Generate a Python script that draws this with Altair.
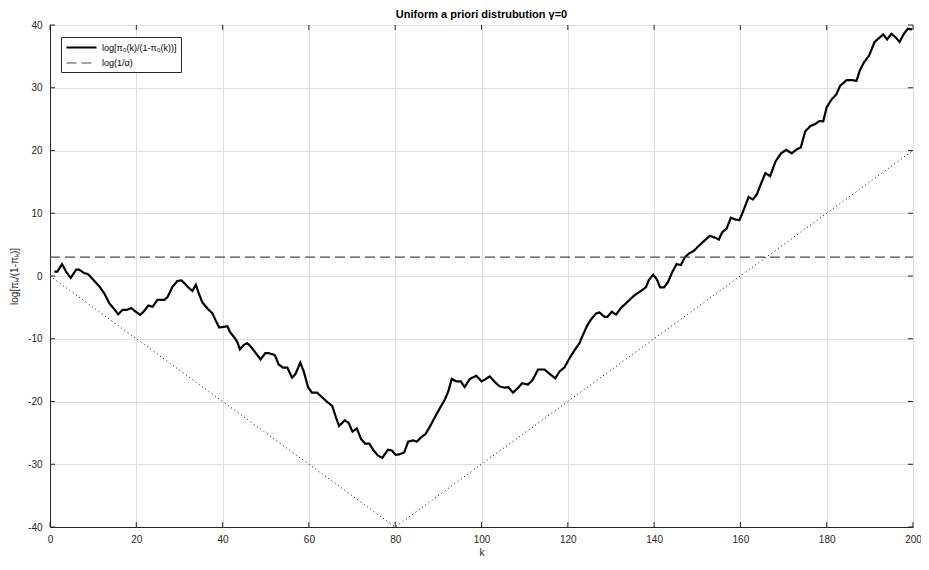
import altair as alt
import pandas as pd

# ---- data ----
k_main = [1, 1.7, 2.8, 3.8, 4.8, 6.1, 6.8, 7.8, 8.8, 9.9, 11.5, 12.6, 13.8, 14.8, 15.8,
          16.8, 17.8, 18.8, 19.7, 20.9, 21.8, 22.8, 23.8, 24.9, 26.5, 27.2, 28.4, 29.5, 30.5,
          31.2, 32.2, 33, 33.8, 34.5, 35.3, 36.5, 37.6, 38.4, 39.2, 40.3, 41.1, 41.7, 42.6,
          43.4, 44, 44.9, 45.7, 46.6, 47.6, 48.8, 49.9,
          50.7, 52.1, 53, 54, 55, 56.1, 56.9, 58, 58.8, 59.8, 60.7, 61.9, 63, 64.2, 65.4,
          66.3, 67, 68.3, 69.2, 70.1, 71.1, 72.1, 73, 74, 75, 76, 77, 78.3, 79.2, 80.1,
          81.1, 82.1, 83, 84.2, 85, 86, 87, 88, 89.2, 90.4, 91.5, 92.3, 93.1, 94.2, 95.2,
          96.1, 97.3, 98.8,
          100, 100.8, 101.9, 103.1, 104.2, 105.4, 106.2, 107.3, 108.5, 109.4, 110.8, 111.9,
          113.1, 114.6, 115.8, 117.1, 118.1, 119.2, 120.4, 121.5, 122.7, 123.5, 124.5, 125.4,
          126.5, 127.3, 128.5, 129.2, 130.2, 131.2, 132.3, 133.8, 135.4, 136.5, 138.1, 138.8,
          139.8, 140.6, 141.4, 142.3, 143.2, 144.2, 145.2, 146.2, 147.1, 148.1, 149.2,
          150.8, 152.9, 154.2, 155, 155.8, 156.8, 157.8, 158.8, 159.8, 160.8, 161.9, 162.9,
          163.8, 165, 165.8, 166.9, 168.1, 169.4, 170.6, 171.9, 173.1, 174, 175, 176.2,
          177.3, 178.3, 179.2, 180, 181.2, 182.2, 183.1, 184.6, 186, 186.9, 187.7, 188.6,
          189.8, 191.1, 192.1, 193.1, 194, 195, 196, 196.9, 197.8, 198.8, 199.8]
v_main = [0.7, 0.7, 1.9, 0.6, -0.3, 1.05, 1.0, 0.5, 0.3, -0.5, -1.7, -2.8, -4.4, -5.2, -6.1,
          -5.4, -5.4, -5.1, -5.6, -6.2, -5.6, -4.7, -4.9, -3.8, -3.8, -3.4, -1.7, -0.8, -0.7,
          -1.2, -1.9, -2.4, -1.4, -2.8, -4.2, -5.2, -5.9, -7.1, -8.2, -8.1, -8.0, -8.9, -9.7,
          -10.5, -11.7, -11.0, -10.7, -11.3, -12.2, -13.3, -12.3,
          -12.3, -12.6, -14.1, -14.6, -14.6, -16.2, -15.6, -13.8, -15.2, -17.7, -18.6, -18.6,
          -19.3, -20.05, -20.7, -22.6, -23.9, -23.0, -23.4, -24.8, -24.3, -26.0, -26.7, -26.7,
          -27.8, -28.6, -29.0, -27.7, -27.8, -28.5, -28.4, -28.1, -26.4, -26.2, -26.4, -25.7,
          -25.2, -24.05, -22.5, -21.0, -19.7, -18.4, -16.4, -16.8, -16.8, -17.7, -16.4, -15.9,
          -16.8, -16.5, -16.0, -16.9, -17.6, -17.8, -17.7, -18.6, -17.8, -17.1, -17.3, -16.5,
          -14.9, -14.9, -15.6, -16.3, -15.2, -14.6, -13.1, -11.9, -10.7, -9.4, -7.9, -6.9,
          -6.0, -5.8, -6.5, -6.5, -5.7, -6.15, -5.1, -4.15, -3.1, -2.6, -1.8, -0.6,
          0.2, -0.5, -1.8, -1.8, -1.0, 0.6, 1.9, 1.75, 2.95, 3.6, 4.0,
          5.1, 6.4, 6.1, 5.8, 7.0, 7.55, 9.3, 9.0, 8.9, 10.6, 12.6, 12.2,
          13.0, 15.1, 16.4, 15.9, 18.2, 19.55, 20.1, 19.55, 20.2, 20.5, 23.0, 23.9,
          24.2, 24.7, 24.65, 26.9, 28.2, 28.9, 30.3, 31.2, 31.2, 31.1, 32.8, 34.0,
          35.1, 37.3, 37.9, 38.5, 37.7, 38.6, 38.0, 37.3, 38.5, 39.4, 39.3]

thr_k = [0, 200]
thr_v = [3.0, 3.0]
bound_k = [0, 80, 200]
bound_v = [0, -40, 20]
x_ticks = list(range(0, 201, 20))
y_ticks = list(range(-40, 41, 10))

series_main = "log[π₀(k)/(1-π₀(k))]"
series_thr = "log(1/α)"
title_text = "Uniform a priori distrubution γ=0"
x_title = "k"
y_title = "log[πₖ/(1-πₖ)]"

# ---- tables ----
lines_df = pd.concat([
    pd.DataFrame({"k": k_main, "v": v_main, "series": series_main}),
    pd.DataFrame({"k": thr_k, "v": thr_v, "series": series_thr}),
])
bound_df = pd.DataFrame({"k": bound_k, "v": bound_v})
xt_df = pd.DataFrame({"k": x_ticks})
yt_df = pd.DataFrame({"v": y_ticks})

W, H = 863, 502
FONT = "Liberation Sans"
AX = "#262626"

xs = alt.Scale(domain=[0, 200], nice=False, zero=False)
ys = alt.Scale(domain=[-40, 40], nice=False, zero=False)

x_axis = alt.Axis(values=x_ticks, title=x_title, grid=True, ticks=False, labelFlush=False,
                  labelPadding=7, titlePadding=3, labelExpr="'' + datum.value")
y_axis = alt.Axis(values=y_ticks, title=y_title, grid=True, ticks=False, labelFlush=False,
                  labelPadding=8, titlePadding=8, labelExpr="'' + datum.value")

x_enc = alt.X("k:Q", scale=xs, axis=x_axis)
y_enc = alt.Y("v:Q", scale=ys, axis=y_axis)

dom = [series_main, series_thr]
legend = alt.Legend(title=None, orient="none", legendX=11, legendY=12)

lines = alt.Chart(lines_df).mark_line().encode(
    x=x_enc, y=y_enc,
    color=alt.Color("series:N", scale=alt.Scale(domain=dom, range=["#000000", "#4a4a4a"]), legend=legend),
    strokeDash=alt.StrokeDash("series:N", scale=alt.Scale(domain=dom, range=[[1, 0], [10, 5]]), legend=legend),
    strokeWidth=alt.StrokeWidth("series:N", scale=alt.Scale(domain=dom, range=[2.2, 1.2]), legend=legend),
)

bound = alt.Chart(bound_df).mark_line(color="#000000", strokeWidth=1, strokeDash=[1, 3]).encode(
    x=x_enc, y=y_enc
)

tick_style = dict(color=AX, strokeWidth=1)
t_bottom = alt.Chart(xt_df).mark_rule(**tick_style).encode(x=x_enc, y=alt.value(H), y2=alt.value(H - 5))
t_top = alt.Chart(xt_df).mark_rule(**tick_style).encode(x=x_enc, y=alt.value(0), y2=alt.value(5))
t_left = alt.Chart(yt_df).mark_rule(**tick_style).encode(y=y_enc, x=alt.value(0), x2=alt.value(5))
t_right = alt.Chart(yt_df).mark_rule(**tick_style).encode(y=y_enc, x=alt.value(W), x2=alt.value(W - 5))

chart = alt.layer(bound, lines, t_bottom, t_top, t_left, t_right).properties(
    width=W, height=H,
    title=alt.Title(title_text, fontSize=11, fontWeight="bold", font=FONT, color="#000000", offset=0),
    autosize=alt.AutoSizeParams(type="none"),
    padding={"left": 42, "top": 17, "right": 8, "bottom": 35},
).configure_view(
    stroke=AX, strokeWidth=1
).configure_axis(
    labelFont=FONT, labelFontSize=10, labelColor=AX,
    titleFont=FONT, titleFontSize=10, titleColor=AX, titleFontWeight="normal",
    domainColor=AX, domainWidth=1, gridColor="#dedede", gridWidth=1,
).configure_legend(
    symbolType="M-3,0H3", symbolSize=100, symbolOffset=10, labelOffset=14,
    labelFont=FONT, labelFontSize=9, labelColor="#000000",
    strokeColor=AX, fillColor="#ffffff", padding=4, rowPadding=4, labelLimit=300,
    symbolStrokeColor="#000000",
)

chart.save("out.html", embed_options={"renderer": "svg", "actions": False})
